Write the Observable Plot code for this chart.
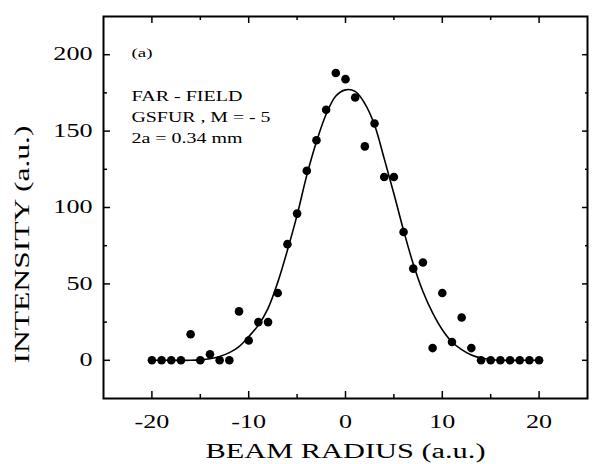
<!DOCTYPE html>
<html>
<head>
<meta charset="utf-8">
<script src="https://cdn.jsdelivr.net/npm/d3@7"></script>
<script src="https://cdn.jsdelivr.net/npm/@observablehq/plot@0.6"></script>
<style>
  html, body { margin: 0; padding: 0; background: #fff; }
  #chart { width: 594px; height: 464px; }
</style>
</head>
<body>
<div id="chart"></div>
<script>
// Measured data (dots)
const radius = [-20,-19,-18,-17,-16,-15,-14,-13,-12,-11,-10,-9,-8,-7,-6,-5,-4,-3,-2,-1,0,1,2,3,4,5,6,7,8,9,10,11,12,13,14,15,16,17,18,19,20];
const intensity = [0,0,0,0,17,0,4,0,0,32,13,25,25,44,76,96,124,144,164,188,184,172,140,155,120,120,84,60,64,8,44,12,28,8,0,0,0,0,0,0,0];

// Fitted curve
const fitRadius = [-20,-18,-16,-15,-14,-13,-12,-11,-10,-9,-8,-7,-6,-5,-4,-3,-2,-1,0,1,2,3,4,5,6,7,8,9,10,11,12,13,14,15,16,18,20];
const fitIntensity = [0,0,0,0.3,1,2.5,5,9,15.5,23,34,51,72,95,121,143,161,173,177,176,168,154,132,109,85,63,45,31,20,12,7,3.5,1.5,0.5,0,0,0];

// Axis ticks
const xTicks = [-20,-10,0,10,20];
const xMinor = [-15,-5,5,15];
const yTicks = [0,50,100,150,200];
const yMinor = [25,75,125,175];

// Annotation texts
const panelLabel = "(a)";
const noteLines = ["FAR - FIELD", "GSFUR , M = - 5", "2a = 0.34 mm"];
const xTitle = "BEAM RADIUS (a.u.)";
const yTitle = "INTENSITY (a.u.)";

const dots = radius.map((r, i) => ({r, v: intensity[i]}));
const fit = fitRadius.map((r, i) => ({r, v: fitIntensity[i]}));

const font = "'Liberation Serif', 'Times New Roman', serif";

const chart = Plot.plot({
  width: 594,
  height: 464,
  marginLeft: 103,
  marginRight: 7,
  marginTop: 16,
  marginBottom: 66,
  x: {domain: [-25, 25]},
  y: {domain: [-25, 225]},
  style: {fontFamily: font, background: "white", color: "black"},
  marks: [
    // inward ticks, all four sides
    Plot.axisX(xTicks, {anchor: "bottom", tickSize: -7, tickFormat: () => "", label: null, strokeWidth: 1.5}),
    Plot.axisX(xMinor, {anchor: "bottom", tickSize: -4, tickFormat: () => "", label: null, strokeWidth: 1.5}),
    Plot.axisX(xTicks, {anchor: "top", tickSize: -6, tickFormat: () => "", label: null, strokeWidth: 1.5}),
    Plot.axisX(xMinor, {anchor: "top", tickSize: -3, tickFormat: () => "", label: null, strokeWidth: 1.5}),
    Plot.axisY(yTicks, {anchor: "left", tickSize: -7, tickFormat: () => "", label: null, strokeWidth: 1.5}),
    Plot.axisY(yMinor, {anchor: "left", tickSize: -4, tickFormat: () => "", label: null, strokeWidth: 1.5}),
    Plot.axisY(yTicks, {anchor: "right", tickSize: -6, tickFormat: () => "", label: null, strokeWidth: 1.5}),
    Plot.axisY(yMinor, {anchor: "right", tickSize: -3, tickFormat: () => "", label: null, strokeWidth: 1.5}),
    // tick labels
    Plot.axisX(xTicks, {anchor: "bottom", tickSize: 0, tickPadding: 17, fontSize: 18, label: null, tickFormat: d => String(d), className: "ticklab"}),
    Plot.axisY(yTicks, {anchor: "left", tickSize: 0, tickPadding: 11, fontSize: 18, label: null, tickFormat: d => String(d), className: "ticklab"}),
    Plot.frame({strokeWidth: 2}),
    // fit curve
    Plot.line(fit, {x: "r", y: "v", curve: "catmull-rom", stroke: "black", strokeWidth: 1.6}),
    // data
    Plot.dot(dots, {x: "r", y: "v", r: 4.3, fill: "black", stroke: "none"}),
    // annotations
    Plot.text([panelLabel], {frameAnchor: "top-left", dx: 28, dy: 37, fontSize: 12, textAnchor: "start", lineAnchor: "middle", className: "lab-a"}),
    Plot.text([noteLines[0]], {frameAnchor: "top-left", dx: 28, dy: 80, fontSize: 14, textAnchor: "start", lineAnchor: "middle", className: "note0"}),
    Plot.text([noteLines[1]], {frameAnchor: "top-left", dx: 28, dy: 101, fontSize: 14, textAnchor: "start", lineAnchor: "middle", className: "note1"}),
    Plot.text([noteLines[2]], {frameAnchor: "top-left", dx: 28, dy: 122, fontSize: 14, textAnchor: "start", lineAnchor: "middle", className: "note2"}),
    // axis titles
    Plot.text([xTitle], {frameAnchor: "bottom", dy: 53, fontSize: 20, textAnchor: "middle", lineAnchor: "middle", className: "xtitle"}),
    Plot.text([yTitle], {frameAnchor: "left", dx: -81, dy: 37, rotate: -90, fontSize: 20, textAnchor: "middle", lineAnchor: "middle", className: "ytitle"})
  ]
});

document.getElementById("chart").appendChild(chart);

// Widen the glyphs the way the scanned serif type appears
function stretch(sel, len) {
  d3.select(chart).selectAll(sel).each(function() {
    const w = this.getComputedTextLength();
    const target = typeof len === "number" ? len : w * 1.45;
    this.setAttribute("textLength", target);
    this.setAttribute("lengthAdjust", "spacingAndGlyphs");
  });
}
stretch(".ticklab text");
stretch(".lab-a text", 21);
stretch(".note0 text", 111);
stretch(".note1 text", 139);
stretch(".note2 text", 111);
stretch(".xtitle text", 280);
stretch(".ytitle text", 238);
</script>
</body>
</html>
